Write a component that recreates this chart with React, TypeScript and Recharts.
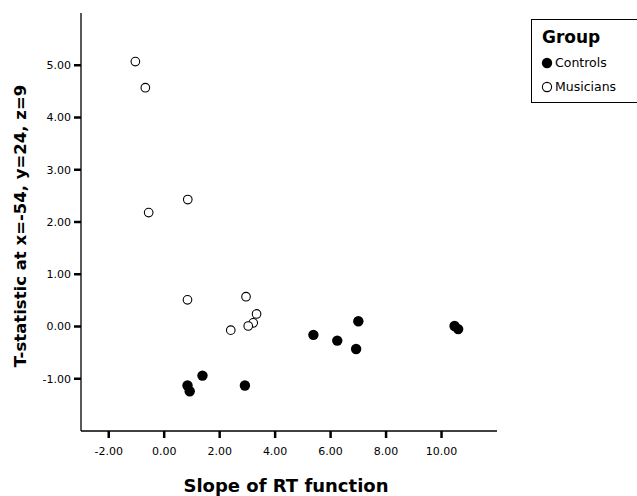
import { ScatterChart, Scatter, XAxis, YAxis } from "recharts";

const controlsX = [0.84, 0.92, 1.38, 2.91, 5.38, 6.24, 7.0, 6.92, 10.47, 10.6];
const controlsY = [-1.13, -1.24, -0.94, -1.13, -0.16, -0.27, 0.1, -0.43, 0.01, -0.05];
const musiciansX = [-1.04, -0.68, -0.56, 0.85, 0.84, 2.95, 3.33, 3.21, 3.03, 2.4];
const musiciansY = [5.07, 4.57, 2.18, 2.43, 0.51, 0.57, 0.24, 0.07, 0.01, -0.07];
const groups = ["Controls", "Musicians"];
const xTicks = [-2, 0, 2, 4, 6, 8, 10];
const yTicks = [-1, 0, 1, 2, 3, 4, 5];

const controls = controlsX.map((x, i) => ({ x, y: controlsY[i] }));
const musicians = musiciansX.map((x, i) => ({ x, y: musiciansY[i] }));

const tickStyle = { fontFamily: "DejaVu Sans", fontSize: 11, fill: "#000" };
const titleFont = "DejaVu Sans";

function Filled({ cx, cy }: any) {
  return <circle cx={cx} cy={cy} r={5.2} fill="#000" />;
}

function Open({ cx, cy }: any) {
  return <circle cx={cx} cy={cy} r={4.3} fill="#fff" stroke="#000" strokeWidth={1.1} />;
}

function YTitle({ viewBox }: any) {
  const cx = 20.5;
  const cy = viewBox.y + viewBox.height / 2 + 4;
  return (
    <text
      x={cx}
      y={cy}
      transform={`rotate(-90, ${cx}, ${cy})`}
      textAnchor="middle"
      dominantBaseline="central"
      fontFamily={titleFont}
      fontWeight="bold"
      fontSize={16.5}
      fill="#000"
    >
      T-statistic at x=-54, y=24, z=9
    </text>
  );
}

function XTitle({ viewBox }: any) {
  const cx = viewBox.x + viewBox.width / 2 - 3;
  return (
    <text x={cx} y={492} textAnchor="middle" fontFamily={titleFont} fontWeight="bold" fontSize={18} fill="#000">
      Slope of RT function
    </text>
  );
}

function GroupLegend() {
  return (
    <div
      style={{
        position: "absolute",
        left: 531,
        top: 19,
        width: 106,
        height: 84,
        boxSizing: "border-box",
        border: "1px solid #000",
        borderRight: "none",
        background: "#fff",
        fontFamily: "DejaVu Sans",
      }}
    >
      <div style={{ position: "absolute", left: 10, top: 7, fontWeight: "bold", fontSize: 17 }}>Group</div>
      {groups.map((g, i) => (
        <div key={g} style={{ position: "absolute", left: 9, top: 35 + i * 24, display: "flex", alignItems: "center", fontSize: 12.5 }}>
          <svg width={12} height={12} style={{ marginRight: 2 }}>
            {i === 0 ? (
              <circle cx={6} cy={6} r={5.2} fill="#000" />
            ) : (
              <circle cx={6} cy={6} r={4.6} fill="#fff" stroke="#000" strokeWidth={1.1} />
            )}
          </svg>
          <span>{g}</span>
        </div>
      ))}
    </div>
  );
}

export default function App() {
  return (
    <div style={{ position: "relative", width: 637, height: 496, background: "#fff" }}>
      <style>{"body{margin:0;background:#fff}"}</style>
      <ScatterChart width={637} height={496} margin={{ top: 13, right: 140, bottom: 0, left: 0 }}>
        <XAxis
          type="number"
          dataKey="x"
          domain={[-3, 12]}
          ticks={xTicks}
          tickFormatter={(v: number) => v.toFixed(2)}
          tick={tickStyle}
          tickSize={7}
          tickMargin={9}
          tickLine={{ stroke: "#000", strokeWidth: 2.5 }}
          axisLine={{ stroke: "#000", strokeWidth: 1.3 }}
          height={65}
          label={<XTitle />}
        />
        <YAxis
          type="number"
          dataKey="y"
          domain={[-2, 6]}
          ticks={yTicks}
          tickFormatter={(v: number) => v.toFixed(2)}
          tick={tickStyle}
          tickSize={7}
          tickMargin={3}
          tickLine={{ stroke: "#000", strokeWidth: 2.5 }}
          axisLine={{ stroke: "#000", strokeWidth: 1.3 }}
          width={81}
          label={<YTitle />}
        />
        <Scatter name={groups[0]} data={controls} shape={<Filled />} isAnimationActive={false} />
        <Scatter name={groups[1]} data={musicians} shape={<Open />} isAnimationActive={false} />
      </ScatterChart>
      <GroupLegend />
    </div>
  );
}
